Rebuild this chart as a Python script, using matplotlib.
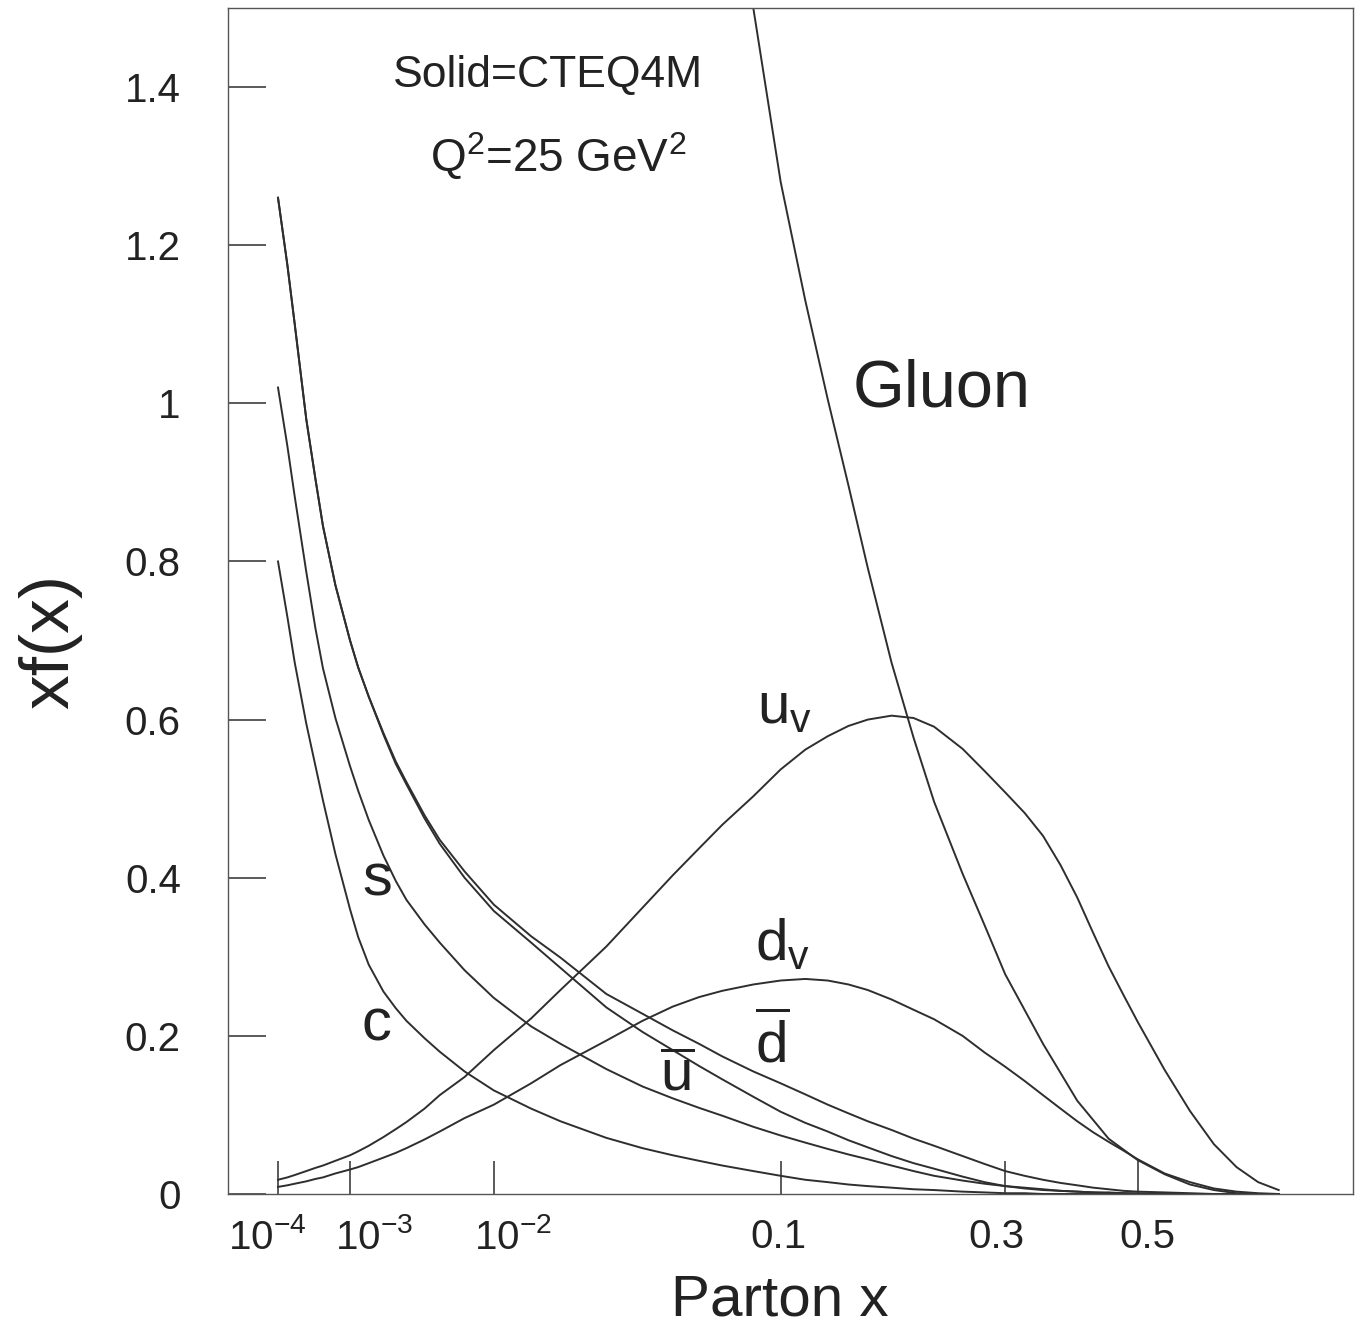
import numpy as np
import matplotlib
matplotlib.use("Agg")
import matplotlib.pyplot as plt
import matplotlib.transforms as mtransforms

plt.rcParams['font.family'] = ['Liberation Sans', 'DejaVu Sans']
plt.rcParams['mathtext.fontset'] = 'custom'
plt.rcParams['mathtext.rm'] = 'Liberation Sans'
plt.rcParams['mathtext.it'] = 'Liberation Sans:italic'
plt.rcParams['mathtext.bf'] = 'Liberation Sans:bold'

# parton x values
x_pdf = [1e-4, 1.5e-4, 2e-4, 3e-4, 4e-4, 5e-4, 7e-4, 1e-3, 1.2e-3, 1.5e-3,
         2e-3, 2.5e-3, 3e-3, 4e-3, 5e-3, 7e-3, 0.01, 0.015, 0.02, 0.03,
         0.04, 0.05, 0.06, 0.07, 0.085, 0.1, 0.115, 0.13, 0.145, 0.16,
         0.18, 0.2, 0.22, 0.25, 0.275, 0.3, 0.325, 0.35, 0.375, 0.4,
         0.425, 0.45, 0.475, 0.5, 0.55, 0.6, 0.65, 0.7, 0.75, 0.8]

dbar = [1.26, 1.175, 1.10, 0.98, 0.905, 0.845, 0.77, 0.70, 0.666, 0.629,
        0.583, 0.547, 0.521, 0.479, 0.448, 0.408, 0.366, 0.326, 0.299, 0.253,
        0.228, 0.207, 0.19, 0.174, 0.155, 0.140, 0.126, 0.113, 0.102, 0.092,
        0.081, 0.070, 0.061, 0.048, 0.038, 0.029, 0.023, 0.018, 0.014, 0.011,
        0.008, 0.006, 0.004, 0.003, 0.002, 0.001, 0, 0, 0, 0]
ubar = [1.26, 1.175, 1.10, 0.98, 0.905, 0.845, 0.77, 0.70, 0.666, 0.629,
        0.581, 0.544, 0.518, 0.475, 0.443, 0.40, 0.358, 0.318, 0.286, 0.236,
        0.205, 0.182, 0.162, 0.145, 0.123, 0.104, 0.090, 0.079, 0.068, 0.059,
        0.048, 0.039, 0.032, 0.022, 0.015, 0.010, 0.007, 0.005, 0.004, 0.003,
        0.002, 0.001, 0.001, 0, 0, 0, 0, 0, 0, 0]
sq = [1.02, 0.946, 0.882, 0.787, 0.716, 0.665, 0.602, 0.541, 0.51, 0.473,
      0.428, 0.396, 0.372, 0.341, 0.318, 0.283, 0.248, 0.212, 0.19, 0.158,
      0.136, 0.121, 0.109, 0.099, 0.085, 0.074, 0.065, 0.057, 0.050, 0.044,
      0.036, 0.029, 0.023, 0.017, 0.013, 0.010, 0.008, 0.006, 0.004, 0.003,
      0.002, 0.002, 0.001, 0.001, 0, 0, 0, 0, 0, 0]
cq = [0.80, 0.73, 0.672, 0.595, 0.542, 0.498, 0.43, 0.36, 0.325, 0.29,
      0.256, 0.235, 0.219, 0.197, 0.180, 0.155, 0.131, 0.108, 0.092, 0.071,
      0.058, 0.049, 0.042, 0.036, 0.029, 0.023, 0.018, 0.015, 0.012, 0.010,
      0.008, 0.006, 0.005, 0.003, 0.002, 0.001, 0.001, 0, 0, 0,
      0, 0, 0, 0, 0, 0, 0, 0, 0, 0]
uv = [0.018, 0.021, 0.024, 0.029, 0.033, 0.036, 0.042, 0.049, 0.054, 0.061,
      0.072, 0.082, 0.091, 0.108, 0.125, 0.148, 0.182, 0.222, 0.258, 0.313,
      0.362, 0.403, 0.437, 0.467, 0.503, 0.537, 0.562, 0.579, 0.592, 0.600,
      0.605, 0.602, 0.591, 0.563, 0.535, 0.508, 0.482, 0.453, 0.416, 0.375,
      0.33, 0.288, 0.252, 0.218, 0.157, 0.105, 0.063, 0.034, 0.015, 0.005]
dv = [0.009, 0.011, 0.013, 0.016, 0.019, 0.021, 0.026, 0.031, 0.034, 0.039,
      0.046, 0.052, 0.058, 0.069, 0.079, 0.096, 0.113, 0.14, 0.163, 0.194,
      0.219, 0.237, 0.249, 0.257, 0.265, 0.270, 0.272, 0.270, 0.265, 0.258,
      0.246, 0.233, 0.221, 0.200, 0.179, 0.161, 0.143, 0.125, 0.108, 0.092,
      0.078, 0.066, 0.055, 0.044, 0.026, 0.015, 0.007, 0.003, 0.001, 0.0]

x_glu = [0.07, 0.085, 0.1, 0.115, 0.13, 0.145, 0.16, 0.18, 0.2, 0.22, 0.25,
         0.275, 0.3, 0.35, 0.4, 0.45, 0.5, 0.55, 0.6, 0.65, 0.7, 0.75, 0.8]
glu = [1.76, 1.50, 1.28, 1.13, 1.005, 0.896, 0.792, 0.672, 0.577, 0.496, 0.405,
       0.34, 0.278, 0.19, 0.118, 0.07, 0.043, 0.025, 0.012, 0.005, 0.001, 0.0, 0.0]

xticks = [1e-4, 1e-3, 1e-2, 0.1, 0.3, 0.5]
xticklabels = [r'$\mathregular{10^{-4}}$', r'$\mathregular{10^{-3}}$',
               r'$\mathregular{10^{-2}}$', '0.1', '0.3', '0.5']
xlabel_shift = [-11, 24, 19, -2, -9, 10]   # px, as placed in the original
yticks = [0, 0.2, 0.4, 0.6, 0.8, 1.0, 1.2, 1.4]
yticklabels = ['0', '0.2', '0.4', '0.6', '0.8', '1', '1.2', '1.4']

P = 0.3
def fwd(x):
    return np.power(np.clip(x, 0, None), P)
def inv(u):
    return np.power(np.clip(u, 0, None), 1.0 / P)

fig = plt.figure(figsize=(13.55, 13.26), dpi=100)
ax = fig.add_axes([228/1355, 1 - 1194/1326, 1125/1355, 1186/1326])
ax.set_xscale('function', functions=(fwd, inv))

lc = '#2e2e2e'
lw = 1.4
for ys in [dbar, ubar, sq, cq, uv, dv]:
    ax.plot(x_pdf, ys, color=lc, lw=lw)
ax.plot(x_glu, glu, color=lc, lw=lw)

ax.set_xlim(2.0e-6, 1.0)
ax.set_ylim(0, 1.5)
ax.set_xticks(xticks)
ax.set_xticklabels(xticklabels)
ax.set_yticks(yticks)
ax.set_yticklabels(yticklabels)
ax.minorticks_off()
ax.tick_params(axis='x', direction='in', length=24, width=1.1, color=lc,
               labelsize=29, pad=17, labelcolor='#222222')
ax.tick_params(axis='y', direction='in', length=27, width=1.1, color=lc,
               labelsize=29, pad=34, labelcolor='#222222')
for lab, dx in zip(ax.get_xticklabels(), xlabel_shift):
    lab.set_transform(lab.get_transform() +
                      mtransforms.ScaledTranslation(dx / 100, 0, fig.dpi_scale_trans))
for sp in ax.spines.values():
    sp.set_linewidth(1.0)
    sp.set_color('#555555')

tc = '#222222'
ax.text(0.2844, 0.9435, 'Solid=CTEQ4M', transform=ax.transAxes, fontsize=32,
        ha='center', va='center', color=tc)
ax.text(0.2933, 0.876, r'Q$^\mathregular{2}$=25 GeV$^\mathregular{2}$',
        transform=ax.transAxes, fontsize=33, ha='center', va='center', color=tc)
ax.text(0.634, 0.678, 'Gluon', transform=ax.transAxes, fontsize=48,
        ha='center', va='center', color=tc)
ax.text(0.470, 0.397, r'$\mathregular{u_v}$', transform=ax.transAxes, fontsize=42,
        ha='left', va='baseline', color=tc)
ax.text(0.4684, 0.1973, r'$\mathregular{d_v}$', transform=ax.transAxes, fontsize=42,
        ha='left', va='baseline', color=tc)
ax.text(0.4684, 0.1113, r'$\overline{\mathregular{d}}$', transform=ax.transAxes,
        fontsize=42, ha='left', va='baseline', color=tc)
ax.text(0.384, 0.0877, r'$\overline{\mathregular{u}}$', transform=ax.transAxes,
        fontsize=42, ha='left', va='baseline', color=tc)
ax.text(0.1191, 0.2521, 's', transform=ax.transAxes, fontsize=43,
        ha='left', va='baseline', color=tc)
ax.text(0.1191, 0.1298, 'c', transform=ax.transAxes, fontsize=43,
        ha='left', va='baseline', color=tc)

fig.text(0.037, 0.516, 'xf(x)', rotation=90, fontsize=50, ha='center',
         va='center', color=tc)
fig.text(0.5756, 0.0189, 'Parton x', fontsize=42, ha='center', va='center',
         color=tc)

fig.savefig('out.png', dpi=100)
